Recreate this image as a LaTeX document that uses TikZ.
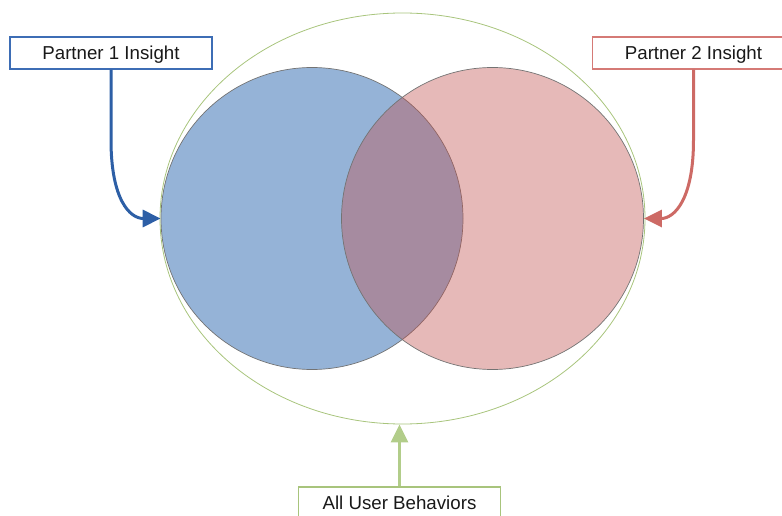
\documentclass[tikz,border=0pt]{standalone}
\usepackage{fontspec}
\setmainfont{Liberation Sans}
\usetikzlibrary{arrows.meta,shapes.geometric}
\definecolor{setblue}{HTML}{4F81BD}
\definecolor{setred}{HTML}{C0504D}
\definecolor{arrowblue}{HTML}{2D5FA6}
\definecolor{boxblue}{HTML}{3D6DB5}
\definecolor{arrowred}{HTML}{CD6A65}
\definecolor{boxred}{HTML}{D57A76}
\definecolor{setgreen}{HTML}{A8C47C}
\definecolor{arrowgreen}{HTML}{B2CD8A}
\begin{document}
\begin{tikzpicture}[x=1pt,y=-1pt,
  label box/.style={draw, line width=1.5pt, fill=white, minimum width=202pt,
    minimum height=32pt, inner sep=0pt, text=black!90,
    text height=13.4pt, text depth=0pt,
    font=\fontsize{18.7}{22}\selectfont},
  pointer/.style={line width=3pt, -{Triangle[length=18pt,width=17pt]}},
  set/.style={circle, minimum size=302pt, inner sep=0pt, draw=black!55, line width=0.7pt}]
\useasboundingbox (0,0) rectangle (782,516);
\clip (0,0) rectangle (782,516);

% the two partner sets
\node[set, fill=setblue, fill opacity=0.6] (p1) at (312,218.5) {};
\node[set, fill=setred, fill opacity=0.4] (p2) at (492.5,218.5) {};

% the surrounding universe of behaviours
\node[ellipse, draw=setgreen, line width=0.8pt, minimum width=485pt,
      minimum height=411pt, inner sep=0pt] (all) at (402.5,218.5) {};

% labels
\node[label box, draw=boxblue] (b1) at (111,53) {Partner 1 Insight};
\node[label box, draw=boxred] (b2) at (693.5,53) {Partner 2 Insight};
\node[label box, draw=setgreen] (b3) at (399.5,503) {All User Behaviors};

% pointers from labels to sets
\draw[pointer, arrowblue] (b1.south) -- (111,140) .. controls (111,200) and (130,218.5) .. (p1.west);
\draw[pointer, arrowred] (b2.south) -- (693.5,140) .. controls (693.5,200) and (674,218.5) .. (p2.east);
\draw[pointer, arrowgreen] (b3.north) -- (b3.north |- all.south);
\end{tikzpicture}
\end{document}
